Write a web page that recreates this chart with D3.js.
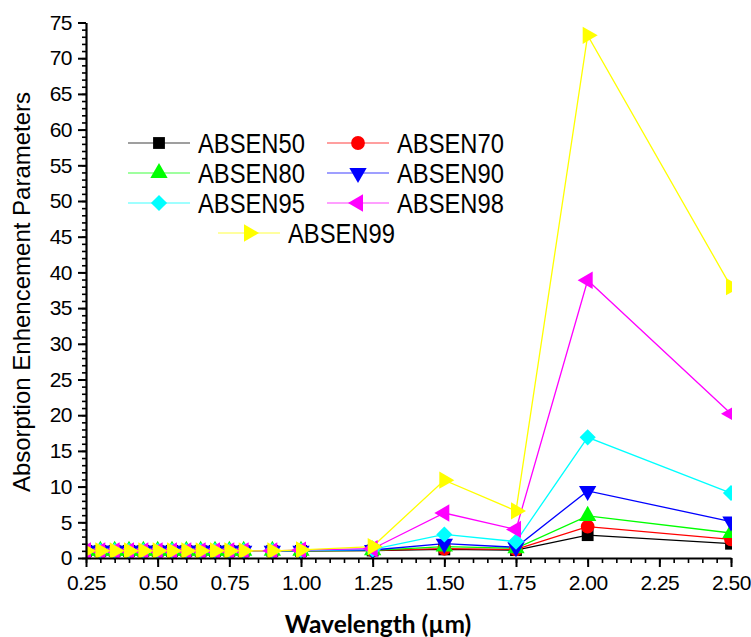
<!DOCTYPE html>
<html>
<head>
<meta charset="utf-8">
<script src="https://cdn.jsdelivr.net/npm/d3@7/dist/d3.min.js"></script>
<style>
  html, body { margin: 0; padding: 0; background: #fff; }
  svg { display: block; }
</style>
</head>
<body>
<svg id="chart" width="751" height="637"></svg>
<script>
// Wavelength grid (µm)
const wavelength = [0.25, 0.30, 0.35, 0.40, 0.45, 0.50, 0.55, 0.60, 0.65, 0.70,
                    0.75, 0.80, 0.90, 1.00, 1.25, 1.50, 1.75, 2.00, 2.50];

// Absorption enhancement parameter per series
const absen50 = [1, 1, 1, 1, 1, 1, 1, 1, 1, 1, 1, 1, 1.0, 1.0, 1.05, 1.2, 1.1, 3.2, 2.0];
const absen70 = [1, 1, 1, 1, 1, 1, 1, 1, 1, 1, 1, 1, 1.0, 1.0, 1.06, 1.3, 1.2, 4.4, 2.6];
const absen80 = [1, 1, 1, 1, 1, 1, 1, 1, 1, 1, 1, 1, 1.0, 1.0, 1.08, 1.6, 1.35, 5.9, 3.5];
const absen90 = [1, 1, 1, 1, 1, 1, 1, 1, 1, 1, 1, 1, 1.0, 1.02, 1.12, 2.0, 1.5, 9.4, 5.1];
const absen95 = [1, 1, 1, 1, 1, 1, 1, 1, 1, 1, 1, 1, 1.0, 1.05, 1.2, 3.3, 2.3, 16.9, 9.1];
const absen98 = [1, 1, 1, 1, 1, 1, 1, 1, 1, 1, 1, 1, 1.0, 1.1, 1.3, 6.3, 4.0, 38.9, 20.2];
const absen99 = [1, 1, 1, 1, 1, 1, 1, 1, 1, 1, 1, 1, 1.0, 1.15, 1.6, 10.9, 6.6, 73.2, 38.0];

const seriesNames = ["ABSEN50", "ABSEN70", "ABSEN80", "ABSEN90", "ABSEN95", "ABSEN98", "ABSEN99"];
const seriesValues = [absen50, absen70, absen80, absen90, absen95, absen98, absen99];

// Axis ticks
const xTicks = [0.25, 0.50, 0.75, 1.00, 1.25, 1.50, 1.75, 2.00, 2.25, 2.50];
const yTicks = [0, 5, 10, 15, 20, 25, 30, 35, 40, 45, 50, 55, 60, 65, 70, 75];

// Styling per series
const colors = ["#000000", "#ff0000", "#00ff00", "#0000ff", "#00ffff", "#ff00ff", "#ffff00"];
const markers = [
  { type: d3.symbolSquare, size: 140, rot: 0 },
  { type: d3.symbolCircle, size: 150, rot: 0 },
  { type: d3.symbolTriangle, size: 130, rot: 0 },
  { type: d3.symbolTriangle, size: 130, rot: 180 },
  { type: d3.symbolSquare, size: 130, rot: 45 },
  { type: d3.symbolTriangle, size: 130, rot: -90 },
  { type: d3.symbolTriangle, size: 130, rot: 90 }
];

const svg = d3.select("#chart");
const plotLeft = 86, plotRight = 731, plotTop = 22.5, plotBottom = 558;

const x = d3.scaleLinear().domain([0.25, 2.5]).range([plotLeft, plotRight]);
const y = d3.scaleLinear().domain([0, 75]).range([plotBottom, plotTop]);

// Clip marks to the plotting area (left/right edges)
svg.append("defs").append("clipPath").attr("id", "plot-clip")
  .append("rect").attr("x", plotLeft).attr("y", 0)
  .attr("width", plotRight - plotLeft + 1).attr("height", plotBottom + 2);

const plot = svg.append("g").attr("clip-path", "url(#plot-clip)");

const line = d3.line().x((d, i) => x(wavelength[i])).y(d => y(d));

seriesValues.forEach((vals, s) => {
  plot.append("path")
    .datum(vals)
    .attr("fill", "none")
    .attr("stroke", colors[s])
    .attr("stroke-width", 1.3)
    .attr("d", line);
});

seriesValues.forEach((vals, s) => {
  const m = markers[s];
  const sym = d3.symbol().type(m.type).size(m.size);
  plot.selectAll(null)
    .data(vals)
    .enter().append("path")
    .attr("d", sym)
    .attr("fill", colors[s])
    .attr("transform", (d, i) => `translate(${x(wavelength[i])},${y(d)}) rotate(${m.rot})`);
});

// Axes
const axisFont = "'Liberation Sans', Arial, sans-serif";

const yMinor = svg.append("g").attr("transform", `translate(${plotLeft},0)`)
  .call(d3.axisLeft(y).tickValues(d3.range(0, 76, 1)).tickSize(4).tickFormat(""));
yMinor.select(".domain").remove();
yMinor.selectAll("line").attr("stroke", "#000").attr("stroke-width", 1.6);

const yAxis = svg.append("g").attr("transform", `translate(${plotLeft},0)`)
  .call(d3.axisLeft(y).tickValues(yTicks).tickSize(8).tickPadding(6).tickSizeOuter(0).tickFormat(d3.format("d")));
yAxis.select(".domain").attr("stroke", "#000").attr("stroke-width", 2.2);
yAxis.selectAll(".tick line").attr("stroke", "#000").attr("stroke-width", 2);
yAxis.selectAll("text").attr("font-family", axisFont).attr("font-size", 21).attr("fill", "#000")
  .attr("letter-spacing", -0.5);

const xMinor = svg.append("g").attr("transform", `translate(0,${plotBottom})`)
  .call(d3.axisBottom(x).tickValues(d3.range(25, 251, 5).map(v => v / 100)).tickSize(5).tickFormat(""));
xMinor.select(".domain").remove();
xMinor.selectAll("line").attr("stroke", "#000").attr("stroke-width", 1.6);

const xAxis = svg.append("g").attr("transform", `translate(0,${plotBottom})`)
  .call(d3.axisBottom(x).tickValues(xTicks).tickSize(9).tickPadding(8).tickSizeOuter(0).tickFormat(d3.format(".2f")));
xAxis.select(".domain").attr("stroke", "#000").attr("stroke-width", 2.2);
xAxis.selectAll(".tick line").attr("stroke", "#000").attr("stroke-width", 2);
xAxis.selectAll("text").attr("font-family", axisFont).attr("font-size", 21).attr("fill", "#000")
  .attr("letter-spacing", -0.5);

// Axis titles
svg.append("text")
  .attr("transform", `translate(30,${292}) rotate(-90)`)
  .attr("text-anchor", "middle")
  .attr("font-family", axisFont)
  .attr("font-size", 24)
  .attr("fill", "#000")
  .text("Absorption Enhencement Parameters");

svg.append("text")
  .attr("x", 378).attr("y", 633)
  .attr("text-anchor", "middle")
  .attr("font-family", "Lato, 'Open Sans', sans-serif")
  .attr("font-weight", "bold")
  .attr("font-size", 24.5)
  .attr("fill", "#000")
  .text("Wavelength (µm)");

// Legend
const legendPos = [
  { lx: 128, ty: 143 }, { lx: 327, ty: 143 },
  { lx: 128, ty: 173 }, { lx: 327, ty: 173 },
  { lx: 128, ty: 203 }, { lx: 327, ty: 203 },
  { lx: 218, ty: 233 }
];
const legend = svg.append("g");
seriesNames.forEach((name, s) => {
  const p = legendPos[s];
  const m = markers[s];
  const g = legend.append("g").attr("transform", `translate(${p.lx},${p.ty})`);
  g.append("line").attr("x1", 0).attr("x2", 62).attr("y1", 0).attr("y2", 0)
    .attr("stroke", colors[s]).attr("stroke-width", 1.2).attr("stroke-opacity", 0.75);
  g.append("path").attr("d", d3.symbol().type(m.type).size(m.size))
    .attr("fill", colors[s])
    .attr("transform", `translate(31,0) rotate(${m.rot})`);
  g.append("text")
    .attr("transform", "translate(70,10) scale(0.88,1)")
    .attr("font-family", axisFont)
    .attr("font-size", 27)
    .attr("fill", "#000")
    .text(name);
});
</script>
</body>
</html>
